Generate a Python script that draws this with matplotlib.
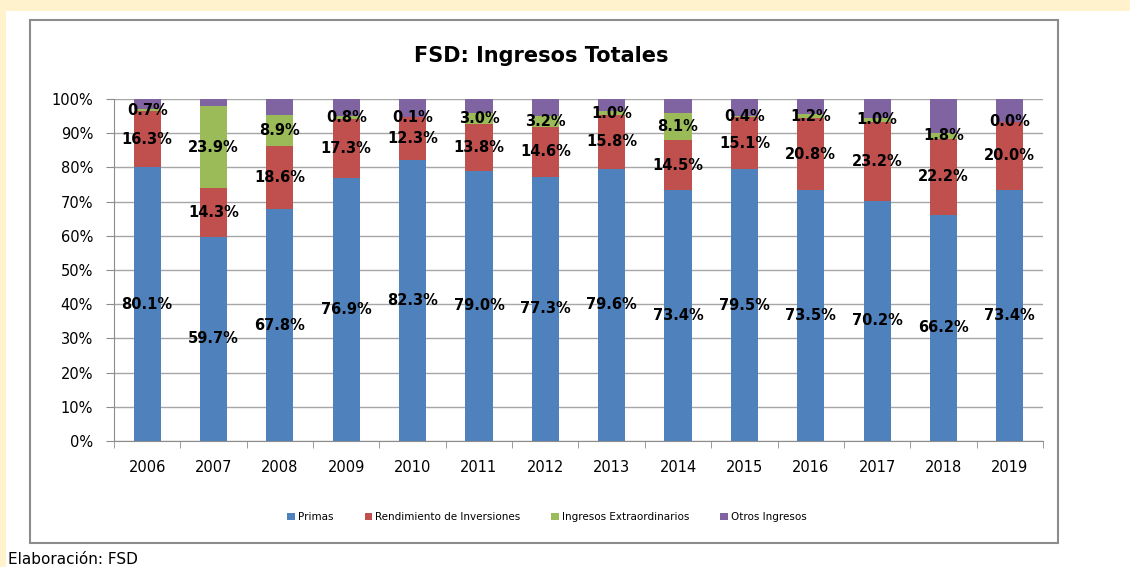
import matplotlib.pyplot as plt
from matplotlib.patches import Rectangle
import numpy as np

years = ['2006', '2007', '2008', '2009', '2010', '2011', '2012',
         '2013', '2014', '2015', '2016', '2017', '2018', '2019']
primas = [80.1, 59.7, 67.8, 76.9, 82.3, 79.0, 77.3, 79.6, 73.4, 79.5, 73.5, 70.2, 66.2, 73.4]
rendimiento = [16.3, 14.3, 18.6, 17.3, 12.3, 13.8, 14.6, 15.8, 14.5, 15.1, 20.8, 23.2, 22.2, 20.0]
extraordinarios = [0.7, 23.9, 8.9, 0.8, 0.1, 3.0, 3.2, 1.0, 8.1, 0.4, 1.2, 1.0, 1.8, 0.0]
otros = [2.9, 2.1, 4.7, 5.0, 5.3, 4.2, 4.9, 3.6, 4.0, 5.0, 4.5, 5.6, 9.8, 6.6]

series = [('Primas', primas, '#4F81BD'),
          ('Rendimiento de Inversiones', rendimiento, '#C0504D'),
          ('Ingresos Extraordinarios', extraordinarios, '#9BBB59'),
          ('Otros Ingresos', otros, '#8064A2')]

fig = plt.figure(figsize=(11.3, 5.67), dpi=100)
fig.patch.set_facecolor('#FFF2CC')
# white panel and chart border
fig.patches.append(Rectangle((6 / 1130, 0), 1, 1 - 11 / 567, transform=fig.transFigure,
                             facecolor='white', edgecolor='none', zorder=-3))
fig.patches.append(Rectangle((30 / 1130, 1 - 543 / 567), (1058 - 30) / 1130, (543 - 20) / 567,
                             transform=fig.transFigure, facecolor='white',
                             edgecolor='#8C8C8C', linewidth=1.5, zorder=-2))

ax = fig.add_axes([114 / 1130, 1 - 441 / 567, (1043 - 114) / 1130, (441 - 99) / 567], zorder=1)
ax.set_facecolor('none')

x = np.arange(len(years))
bottom = np.zeros(len(years))
for i, (name, vals, color) in enumerate(series):
    vals = np.array(vals)
    ax.bar(x, vals, 0.41, bottom=bottom, color=color, label=name, zorder=2)
    if i < 3:
        for xi, b, v in zip(x, bottom, vals):
            ax.text(xi, b + v / 2, f'{v:.1f}%', ha='center', va='center',
                    fontsize=10.5, fontweight='bold', color='black', zorder=4)
    bottom += vals

ax.set_xlim(-0.5, len(years) - 0.5)
ax.set_ylim(0, 100)
ax.set_yticks(range(0, 101, 10))
ax.set_yticklabels([f'{v}%' for v in range(0, 101, 10)], fontsize=10.5)
ax.set_xticks(x)
ax.set_xticklabels(years, fontsize=10.5)
ax.set_xticks(np.arange(len(years) + 1) - 0.5, minor=True)
ax.tick_params(axis='x', which='major', length=0, pad=14)
ax.tick_params(axis='x', which='minor', length=5, color='#8C8C8C')
ax.tick_params(axis='y', length=6, color='#8C8C8C', pad=9)
ax.yaxis.grid(True, color='#A6A6A6', linewidth=1, zorder=1)
ax.set_axisbelow(True)
for s in ['top', 'right']:
    ax.spines[s].set_visible(False)
ax.spines['left'].set_color('#8C8C8C')
ax.spines['bottom'].set_color('#8C8C8C')

fig.text(541 / 1130, 1 - 56 / 567, 'FSD: Ingresos Totales', ha='center', va='center',
         fontsize=15, fontweight='bold')

ax.legend(loc='center', bbox_to_anchor=(547 / 1130, 1 - 517 / 567),
          bbox_transform=fig.transFigure, ncol=4, frameon=False, fontsize=7.5,
          handlelength=0.7, handleheight=0.7, handletextpad=0.3, columnspacing=3.0)

fig.text(8 / 1130, 1 - 559 / 567, 'Elaboración: FSD', ha='left', va='center', fontsize=11)

fig.savefig('out.png', dpi=100, facecolor=fig.get_facecolor())
